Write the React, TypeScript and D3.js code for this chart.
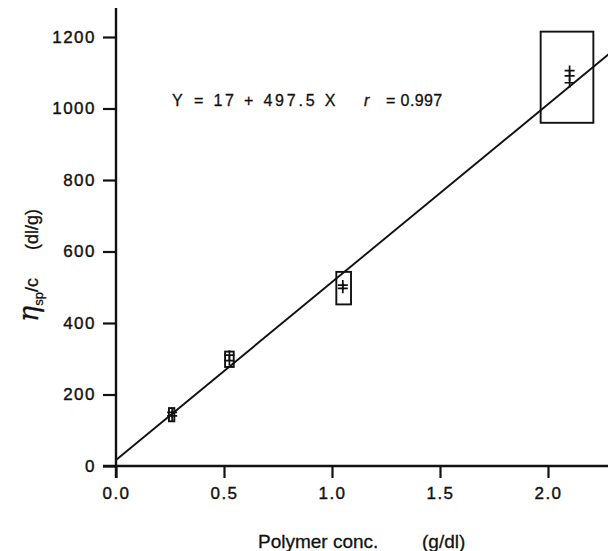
import React, { useEffect, useRef } from 'react';
import * as d3 from 'd3';

// polymer concentration (g/dl) for each sample group
const concentrations = [0.26, 0.525, 1.05, 2.1];
// measured eta_sp/c (dl/g) replicates per group
const replicates = [
  [150, 140],
  [310, 295],
  [506, 497],
  [1106, 1091, 1072],
];
// range boxes drawn around each group
const boxXMin = [0.245, 0.505, 1.02, 1.966];
const boxXMax = [0.27, 0.545, 1.088, 2.21];
const boxYMin = [125, 277, 452, 960];
const boxYMax = [162, 320, 543, 1215];

const xTicks = [0, 0.5, 1.0, 1.5, 2.0];
const yTicks = [0, 200, 400, 600, 800, 1000, 1200];

// regression: Y = 17 + 497.5 X, r = 0.997
const intercept = 17;
const slope = 497.5;
const fitX = [0, 2.3];

const W = 608;
const H = 551;
const FONT = '"Liberation Sans", Arial, Helvetica, sans-serif';

const App = () => {
  const svgRef = useRef<SVGSVGElement>(null);

  useEffect(() => {
    const svg = d3.select(svgRef.current);
    svg.selectAll('*').remove();

    const x = d3.scaleLinear().domain([0, 2]).range([116, 548]);
    const y = d3.scaleLinear().domain([0, 1200]).range([466, 37]);

    // axes lines
    svg.append('line')
      .attr('x1', x(0)).attr('x2', x(0))
      .attr('y1', 8).attr('y2', y(0) + 12)
      .attr('stroke', '#111').attr('stroke-width', 2.4);
    svg.append('line')
      .attr('x1', x(0) - 13).attr('x2', W)
      .attr('y1', y(0)).attr('y2', y(0))
      .attr('stroke', '#111').attr('stroke-width', 2.4);

    const styleTickText = (sel: any) =>
      sel.attr('font-family', FONT).attr('font-size', 17)
        .attr('letter-spacing', 1.5).attr('fill', '#111')
        .attr('stroke', '#111').attr('stroke-width', 0.4);

    const yAxis = d3.axisLeft(y)
      .tickValues(yTicks)
      .tickSize(13)
      .tickSizeOuter(0)
      .tickPadding(7)
      .tickFormat(d3.format('d'));
    const gy = svg.append('g').attr('transform', `translate(${x(0)},0)`).call(yAxis);
    gy.select('.domain').remove();
    gy.selectAll('line').attr('stroke', '#111').attr('stroke-width', 2.2);
    styleTickText(gy.selectAll('text'));

    const xAxis = d3.axisBottom(x)
      .tickValues(xTicks)
      .tickSize(12)
      .tickSizeOuter(0)
      .tickPadding(9)
      .tickFormat(d3.format('.1f'));
    const gx = svg.append('g').attr('transform', `translate(0,${y(0)})`).call(xAxis);
    gx.select('.domain').remove();
    gx.selectAll('line').attr('stroke', '#111').attr('stroke-width', 2.2);
    styleTickText(gx.selectAll('text'));

    // fitted line
    const line = d3.line<number>()
      .x(d => x(d))
      .y(d => y(intercept + slope * d));
    svg.append('path')
      .datum(fitX)
      .attr('d', line)
      .attr('fill', 'none')
      .attr('stroke', '#111')
      .attr('stroke-width', 1.9);

    // range boxes
    concentrations.forEach((c, i) => {
      svg.append('rect')
        .attr('x', x(boxXMin[i]))
        .attr('y', y(boxYMax[i]))
        .attr('width', x(boxXMax[i]) - x(boxXMin[i]))
        .attr('height', y(boxYMin[i]) - y(boxYMax[i]))
        .attr('fill', 'none')
        .attr('stroke', '#111')
        .attr('stroke-width', 1.9);
    });

    // replicate markers (+)
    const pts = concentrations.flatMap((c, i) => replicates[i].map(v => ({ c, v })));
    svg.append('g')
      .selectAll('path')
      .data(pts)
      .join('path')
      .attr('d', d => {
        const px = x(d.c);
        const py = y(d.v);
        return `M${px - 5},${py}H${px + 5}M${px},${py - 5}V${py + 5}`;
      })
      .attr('stroke', '#111')
      .attr('stroke-width', 1.7)
      .attr('fill', 'none');

    // equation
    const eq = svg.append('text')
      .attr('y', 106)
      .attr('font-family', FONT).attr('font-size', 16)
      .attr('fill', '#111')
      .attr('stroke', '#111').attr('stroke-width', 0.3)
      .attr('xml:space', 'preserve');
    eq.append('tspan').attr('x', 172).text('Y');
    eq.append('tspan').attr('x', 194).attr('letter-spacing', 2.8).text('= 17 + 497.5 X');
    eq.append('tspan').attr('x', 364).attr('font-style', 'italic').text('r');
    eq.append('tspan').attr('x', 386).attr('letter-spacing', 0.4).text('= 0.997');

    // axis titles
    const xt = svg.append('text')
      .attr('y', 548)
      .attr('font-family', FONT).attr('font-size', 19)
      .attr('fill', '#111')
      .attr('stroke', '#111').attr('stroke-width', 0.3);
    xt.append('tspan').attr('x', 258).text('Polymer conc.');
    xt.append('tspan').attr('x', 422).text('(g/dl)');

    const yt = svg.append('text')
      .attr('transform', 'translate(38,322) rotate(-90)')
      .attr('font-family', FONT).attr('font-size', 18)
      .attr('fill', '#111')
      .attr('stroke', '#111').attr('stroke-width', 0.3);
    yt.append('tspan').attr('font-size', 27).attr('font-family', '"DejaVu Serif", serif').attr('font-style', 'italic').text('η');
    yt.append('tspan').attr('font-size', 13).attr('dy', 5).text('sp');
    yt.append('tspan').attr('dy', -5).text('/c');
    yt.append('tspan').attr('dx', 28).text('(dl/g)');
  }, []);

  return (
    <svg
      ref={svgRef}
      width={W}
      height={H}
      style={{ position: 'absolute', left: 0, top: 0, background: '#fff' }}
    />
  );
};

export default App;
